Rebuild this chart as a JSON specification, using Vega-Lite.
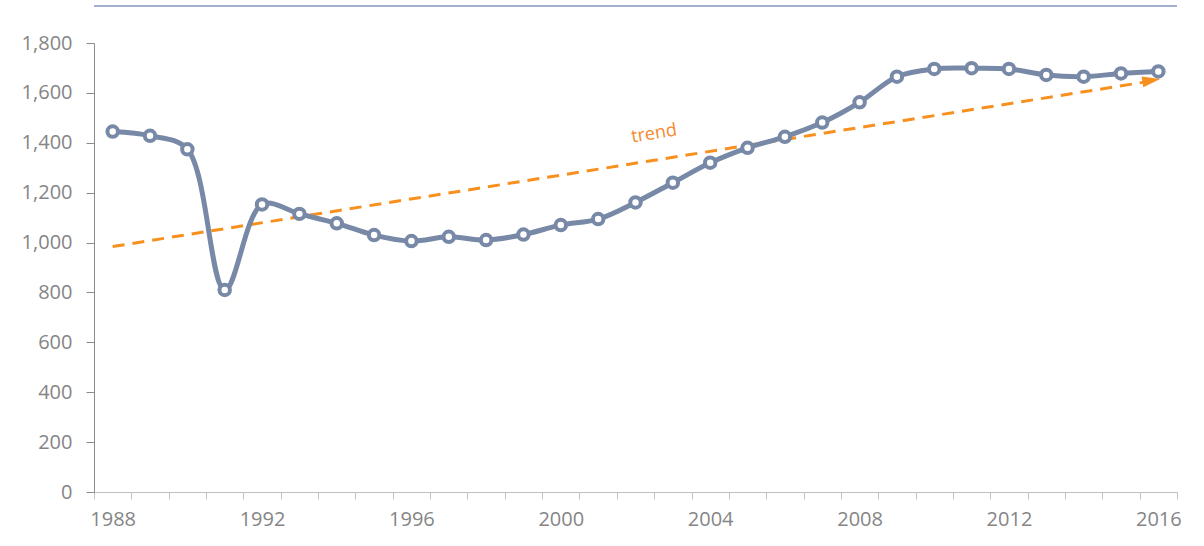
{
  "$schema": "https://vega.github.io/schema/vega-lite/v6.json",
  "width": 1083,
  "height": 449,
  "autosize": {"type": "none"},
  "padding": {"left": 94, "top": 43, "right": 27, "bottom": 54},
  "background": "white",
  "config": {
    "view": {"stroke": null},
    "font": "Open Sans",
    "axis": {"labelFont": "Open Sans", "labelFontSize": 20, "labelColor": "#858585", "grid": false, "title": null}
  },
  "datasets": {
    "series": [
      {"year": 1988, "value": 1445},
      {"year": 1989, "value": 1428},
      {"year": 1990, "value": 1374},
      {"year": 1991, "value": 810},
      {"year": 1992, "value": 1153},
      {"year": 1993, "value": 1115},
      {"year": 1994, "value": 1077},
      {"year": 1995, "value": 1030},
      {"year": 1996, "value": 1006},
      {"year": 1997, "value": 1023},
      {"year": 1998, "value": 1010},
      {"year": 1999, "value": 1032},
      {"year": 2000, "value": 1070},
      {"year": 2001, "value": 1094},
      {"year": 2002, "value": 1161},
      {"year": 2003, "value": 1240},
      {"year": 2004, "value": 1320},
      {"year": 2005, "value": 1380},
      {"year": 2006, "value": 1424},
      {"year": 2007, "value": 1481},
      {"year": 2008, "value": 1562},
      {"year": 2009, "value": 1665},
      {"year": 2010, "value": 1696},
      {"year": 2011, "value": 1699},
      {"year": 2012, "value": 1696},
      {"year": 2013, "value": 1672},
      {"year": 2014, "value": 1665},
      {"year": 2015, "value": 1678},
      {"year": 2016, "value": 1686}
    ],
    "trend": [
      {"year": 1988, "value": 984},
      {"year": 2016, "value": 1652}
    ],
    "arrow": [{"year": 2016, "value": 1650}],
    "label": [{"year": 2003, "value": 1435, "text": "trend"}],
    "frame": [{"value": 1948}]
  },
  "layer": [
    {
      "data": {"name": "frame"},
      "mark": {"type": "rule", "color": "#8197c6", "strokeWidth": 1.5, "clip": false},
      "encoding": {"y": {"field": "value", "type": "quantitative", "scale": {"domain": [0, 1800]},
          "axis": {"values": [0,200,400,600,800,1000,1200,1400,1600,1800], "format": ",.0f", "domainColor": "#8c8c8c", "tickColor": "#8c8c8c", "tickSize": 8, "labelPadding": 14}}}
    },
    {
      "data": {"name": "trend"},
      "mark": {"type": "line", "color": "#f7901e", "strokeWidth": 3, "strokeDash": [12, 8]},
      "encoding": {
        "x": {"field": "year", "type": "ordinal", "bandPosition": 0.5, "scale": {"type": "band", "paddingInner": 0, "paddingOuter": 0, "domain": [1988,1989,1990,1991,1992,1993,1994,1995,1996,1997,1998,1999,2000,2001,2002,2003,2004,2005,2006,2007,2008,2009,2010,2011,2012,2013,2014,2015,2016]},
          "axis": {"tickBand": "extent", "labelAngle": 0, "labelOverlap": false, "labelExpr": "(datum.value - 1988) % 4 === 0 ? datum.label : ''", "domainColor": "#c0c0c0", "tickColor": "#c0c0c0", "tickSize": 7, "labelPadding": 10}},
        "y": {"field": "value", "type": "quantitative"}
      }
    },
    {
      "data": {"name": "arrow"},
      "mark": {"type": "point", "shape": "M-1,-0.6L1,0L-1,0.6Z", "size": 324, "angle": 351, "filled": true, "color": "#f7901e", "opacity": 1, "xOffset": -7},
      "encoding": {
        "x": {"field": "year", "type": "ordinal", "bandPosition": 0.5},
        "y": {"field": "value", "type": "quantitative"}
      }
    },
    {
      "data": {"name": "series"},
      "mark": {"type": "line", "color": "#7789a6", "strokeWidth": 5, "interpolate": "catmull-rom"},
      "encoding": {
        "x": {"field": "year", "type": "ordinal", "bandPosition": 0.5},
        "y": {"field": "value", "type": "quantitative"}
      }
    },
    {
      "data": {"name": "series"},
      "mark": {"type": "point", "filled": false, "fill": "white", "stroke": "#7789a6", "strokeWidth": 4, "size": 110, "opacity": 1},
      "encoding": {
        "x": {"field": "year", "type": "ordinal", "bandPosition": 0.5},
        "y": {"field": "value", "type": "quantitative"}
      }
    },
    {
      "data": {"name": "label"},
      "mark": {"type": "text", "font": "Open Sans", "fontSize": 18, "color": "#f38a2c", "angle": 351, "align": "center", "baseline": "middle"},
      "encoding": {
        "x": {"field": "year", "type": "ordinal", "bandPosition": 0},
        "y": {"field": "value", "type": "quantitative"},
        "text": {"field": "text"}
      }
    }
  ]
}
